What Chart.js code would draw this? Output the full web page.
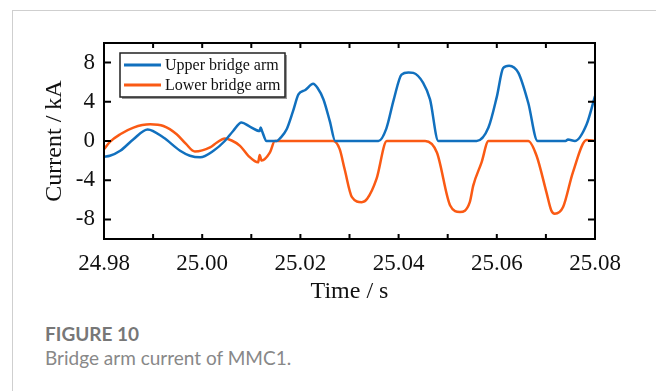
<!DOCTYPE html>
<html lang="en">
<head>
    <meta charset="UTF-8">
    <title>Bridge arm current of MMC1</title>
    <style>
        body {
            margin: 0;
            width: 656px;
            height: 391px;
            background: #fff;
            position: relative;
            overflow: hidden;
        }

        .card {
            position: absolute;
            left: 12px;
            top: 10px;
            width: 700px;
            height: 420px;
            border-left: 1px solid #cfcfcf;
            border-top: 1px solid #cfcfcf;
        }

        #chart {
            position: absolute;
            left: 0;
            top: 0;
        }

        .fig-label {
            position: absolute;
            left: 45px;
            top: 324px;
            font-family: Lato, "Open Sans", sans-serif;
            font-weight: bold;
            font-size: 19px;
            line-height: 19px;
            color: #777;
        }

        .fig-caption {
            position: absolute;
            left: 45px;
            top: 348px;
            font-family: Lato, "Open Sans", sans-serif;
            font-size: 19px;
            line-height: 19px;
            color: #888;
        }
    </style>
</head>
<body>
    <div class="card"></div>
    <canvas id="chart" width="656" height="320"></canvas>
    <div class="fig-label">FIGURE 10</div>
    <div class="fig-caption">Bridge arm current of MMC1.</div>

    <script src="https://cdn.jsdelivr.net/npm/chart.js@4"></script>
    <script>
        // data (time in s, current in kA)
        const seriesNames = ['Upper bridge arm', 'Lower bridge arm'];

        const upperTime = [24.98, 24.9812, 24.9833, 24.986, 24.9889, 24.9921, 24.9955, 24.9975, 24.9996,
            25.0023, 25.0046, 25.0063, 25.008, 25.0097, 25.0117, 25.0119, 25.0122, 25.0131,
            25.0152, 25.0159, 25.0172, 25.0185, 25.0196, 25.021, 25.0226, 25.0235, 25.0247, 25.026, 25.0271,
            25.0359, 25.0375, 25.039, 25.0406, 25.042, 25.043, 25.045, 25.0464, 25.0481,
            25.0559, 25.0583, 25.06, 25.0613, 25.0625, 25.0644, 25.0664, 25.0683,
            25.074, 25.0745, 25.0759, 25.0783, 25.08];
        const upperCurrent = [-1.6, -1.51, -1.0, 0.18, 1.17, 0.35, -1.0, -1.51, -1.67,
            -1.0, 0.0, 1.02, 1.88, 1.47, 1.02, 1.37, 1.0, 0.0,
            0.0, 0.3, 1.2, 3.05, 4.75, 5.2, 5.83, 5.4, 4.24, 2.0, 0.0,
            0.0, 1.27, 4.2, 6.78, 7.0, 6.95, 5.93, 4.24, 0.0,
            0.0, 1.37, 4.5, 7.45, 7.69, 6.95, 3.9, 0.0,
            0.0, 0.15, 0.0, 1.7, 4.57];

        const lowerTime = [24.98, 24.9812, 24.9833, 24.986, 24.9894, 24.9921, 24.9948, 24.9967, 24.9985,
            25.0016, 25.003, 25.0046, 25.006, 25.0077, 25.0094, 25.0114, 25.0117, 25.0121, 25.0138, 25.0148,
            25.0267, 25.028, 25.029, 25.0305, 25.0325, 25.0336, 25.0355, 25.0376,
            25.0454, 25.0478, 25.0505, 25.0525, 25.0545, 25.0552, 25.0569, 25.0583,
            25.0664, 25.0681, 25.0701, 25.0711, 25.0718, 25.0735, 25.0755, 25.0783, 25.08];
        const lowerCurrent = [-0.85, -0.09, 0.69, 1.37, 1.7, 1.53, 0.69, -0.3, -1.07,
            -0.66, -0.15, 0.25, 0.05, -0.49, -1.51, -2.18, -1.44, -2.0, -1.17, 0.0,
            0.0, -0.83, -2.86, -5.73, -6.24, -5.9, -3.87, 0.0,
            0.0, -1.17, -6.58, -7.25, -6.24, -4.55, -2.18, 0.0,
            0.0, -1.5, -5.22, -7.09, -7.42, -6.74, -3.2, 0.1, 0.0];

        const xTicks = [24.98, 25.00, 25.02, 25.04, 25.06, 25.08];
        const yTicks = [-8, -4, 0, 4, 8];
        const colors = ['#1170BE', '#FA5A14'];

        const serif = "'Liberation Serif', 'Times New Roman', serif";

        function toPoints(ts, vs) {
            return ts.map((t, i) => ({ x: t, y: vs[i] }));
        }

        // frame with inward ticks on all four sides
        const framePlugin = {
            id: 'frame',
            afterDatasetsDraw(chart) {
                const { ctx, chartArea: a, scales } = chart;
                ctx.save();
                ctx.strokeStyle = '#000';
                ctx.lineWidth = 2;
                ctx.strokeRect(a.left, a.top, a.right - a.left, a.bottom - a.top);

                // x ticks, major + minor halfway
                const xs = scales.x.ticks.map(t => t.value);
                const xMarks = [];
                xs.forEach((v, i) => {
                    xMarks.push(v);
                    if (i < xs.length - 1) xMarks.push((v + xs[i + 1]) / 2);
                });
                ctx.beginPath();
                xMarks.forEach(v => {
                    const px = scales.x.getPixelForValue(v);
                    ctx.moveTo(px, a.bottom);
                    ctx.lineTo(px, a.bottom - 5);
                    ctx.moveTo(px, a.top);
                    ctx.lineTo(px, a.top + 5);
                });
                scales.y.ticks.forEach(t => {
                    const py = scales.y.getPixelForValue(t.value);
                    ctx.moveTo(a.left, py);
                    ctx.lineTo(a.left + 7, py);
                    ctx.moveTo(a.right, py);
                    ctx.lineTo(a.right - 7, py);
                });
                ctx.stroke();
                ctx.restore();
            }
        };

        // legend box in the upper left of the plot
        const legendPlugin = {
            id: 'boxLegend',
            afterDraw(chart) {
                const { ctx, chartArea: a } = chart;
                const x0 = a.left + 16, y0 = a.top + 10, w = 165, h = 44;
                ctx.save();
                ctx.fillStyle = '#999';
                ctx.fillRect(x0 + 2, y0 + 2, w, h);
                ctx.fillStyle = '#fff';
                ctx.fillRect(x0, y0, w, h);
                ctx.strokeStyle = '#222';
                ctx.lineWidth = 1.5;
                ctx.strokeRect(x0, y0, w, h);
                ctx.font = '16px ' + serif;
                ctx.textBaseline = 'middle';
                chart.data.datasets.forEach((ds, i) => {
                    const y = y0 + 12 + i * 20;
                    ctx.strokeStyle = ds.borderColor;
                    ctx.lineWidth = 3;
                    ctx.beginPath();
                    ctx.moveTo(x0 + 4, y);
                    ctx.lineTo(x0 + 41, y);
                    ctx.stroke();
                    ctx.fillStyle = '#111';
                    ctx.fillText(ds.label, x0 + 45, y + 1);
                });
                ctx.restore();
            }
        };

        new Chart(document.getElementById('chart'), {
            type: 'line',
            data: {
                datasets: [
                    {
                        label: seriesNames[0],
                        data: toPoints(upperTime, upperCurrent),
                        borderColor: colors[0],
                        borderWidth: 2.5,
                        pointRadius: 0,
                        cubicInterpolationMode: 'monotone'
                    },
                    {
                        label: seriesNames[1],
                        data: toPoints(lowerTime, lowerCurrent),
                        borderColor: colors[1],
                        borderWidth: 2.5,
                        pointRadius: 0,
                        cubicInterpolationMode: 'monotone'
                    }
                ]
            },
            options: {
                responsive: false,
                animation: false,
                layout: { padding: { top: 43, right: 61, left: 0, bottom: 0 } },
                plugins: {
                    legend: { display: false },
                    tooltip: { enabled: false }
                },
                scales: {
                    x: {
                        type: 'linear',
                        min: 24.98,
                        max: 25.08,
                        afterBuildTicks: s => { s.ticks = xTicks.map(v => ({ value: v })); },
                        afterFit: s => { s.height = 81; },
                        grid: { display: false, drawTicks: false },
                        border: { display: false },
                        ticks: {
                            padding: 11,
                            color: '#111',
                            font: { family: serif, size: 23 },
                            maxRotation: 0,
                            callback: v => v.toFixed(2)
                        },
                        title: {
                            display: true,
                            text: 'Time / s',
                            color: '#111',
                            font: { family: serif, size: 24 },
                            padding: { top: 0, bottom: 14 }
                        }
                    },
                    y: {
                        min: -10,
                        max: 10,
                        afterBuildTicks: s => { s.ticks = yTicks.map(v => ({ value: v })); },
                        afterFit: s => { s.width = 104; },
                        grid: { display: false, drawTicks: false },
                        border: { display: false },
                        ticks: {
                            padding: 9,
                            color: '#111',
                            font: { family: serif, size: 23 }
                        },
                        title: {
                            display: true,
                            text: 'Current / kA',
                            color: '#111',
                            font: { family: serif, size: 24 },
                            padding: { top: 40, bottom: 0 }
                        }
                    }
                }
            },
            plugins: [framePlugin, legendPlugin]
        });
    </script>
</body>
</html>
